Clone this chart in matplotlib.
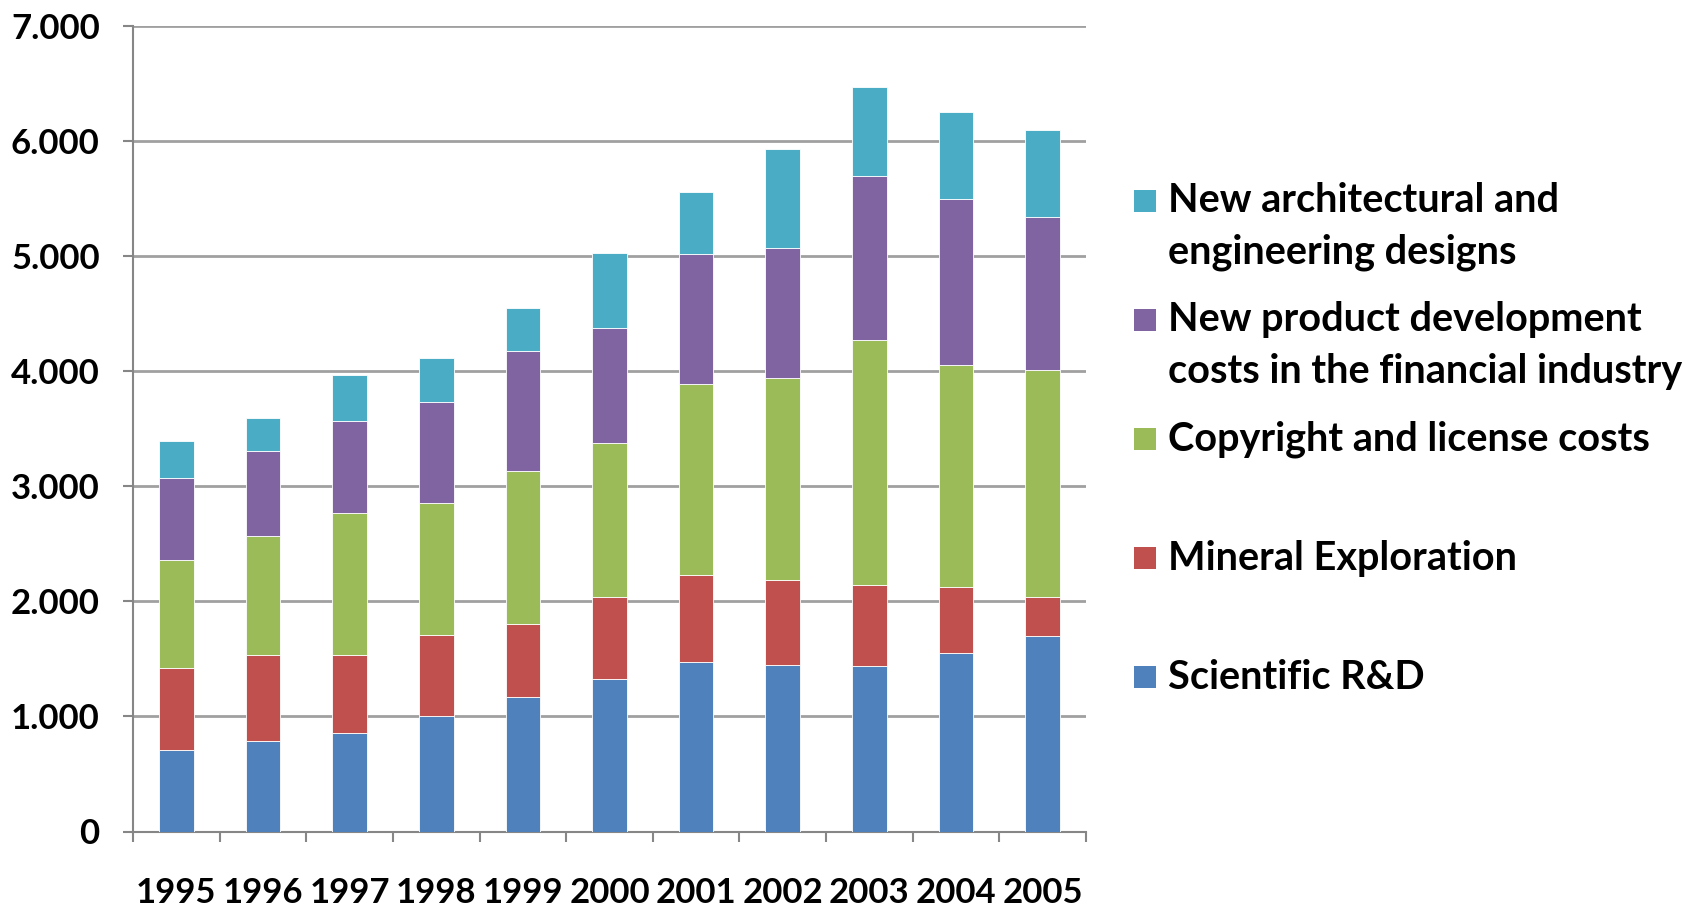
import matplotlib
matplotlib.use('Agg')
import matplotlib.pyplot as plt
from matplotlib.patches import Rectangle
from matplotlib.ticker import FuncFormatter
import numpy as np

# ---- data ----
years = ['1995', '1996', '1997', '1998', '1999', '2000', '2001', '2002', '2003', '2004', '2005']
scientific_rd = [711, 783, 856, 1004, 1166, 1323, 1471, 1451, 1442, 1552, 1697]
mineral_exploration = [711, 752, 682, 705, 641, 716, 754, 736, 702, 569, 345]
copyright_license = [937, 1030, 1227, 1149, 1329, 1335, 1664, 1754, 2126, 1931, 1970]
new_product_financial = [710, 745, 806, 878, 1038, 998, 1126, 1126, 1430, 1445, 1331]
architectural_designs = [325, 284, 392, 377, 377, 658, 540, 866, 766, 754, 752]

series_labels = ['Scientific R&D',
                 'Mineral Exploration',
                 'Copyright and license costs',
                 'New product development\ncosts in the financial industry',
                 'New architectural and\nengineering designs']
series_values = [scientific_rd, mineral_exploration, copyright_license,
                 new_product_financial, architectural_designs]
colors = ['#4F81BD', '#C0504D', '#9BBB59', '#8064A2', '#4BACC6']

plt.rcParams['font.family'] = ['Lato', 'DejaVu Sans']
plt.rcParams['font.weight'] = 'bold'
FS = 25
LFS = 28.5

W, H = 1691, 906
fig = plt.figure(figsize=(W / 100, H / 100), dpi=100)
ax = fig.add_axes([133 / W, 1 - 831.5 / H, (1086 - 133) / W, (831.5 - 26) / H])

x = np.arange(len(years))
bottom = np.zeros(len(years))
for vals, col, lab in zip(series_values, colors, series_labels):
    ax.bar(x, vals, width=0.4, bottom=bottom, color=col, edgecolor='white',
           linewidth=0.6, label=lab, zorder=3)
    bottom += np.array(vals)

ax.set_xlim(-0.5, len(years) - 0.5)
ax.set_ylim(0, 7000)
ax.set_yticks(np.arange(0, 7001, 1000))
ax.yaxis.set_major_formatter(FuncFormatter(lambda v, p: f"{int(v):,}".replace(',', '.')))
ax.set_xticks(x)
ax.set_xticklabels(years)
ax.set_xticks(np.arange(-0.5, len(years), 1), minor=True)

gray = '#868686'
ax.tick_params(axis='x', which='major', length=0, pad=33, labelsize=FS)
ax.tick_params(axis='x', which='minor', length=7, width=1.5, color=gray, direction='out')
ax.tick_params(axis='y', which='major', length=7, width=1.5, color=gray, pad=17, labelsize=FS)
for t in ax.get_xticklabels() + ax.get_yticklabels():
    t.set_fontweight('bold')

ax.yaxis.grid(True, color='#A0A0A0', linewidth=2)
ax.set_axisbelow(True)
for s in ['top', 'right']:
    ax.spines[s].set_visible(False)
for s in ['left', 'bottom']:
    ax.spines[s].set_color(gray)
    ax.spines[s].set_linewidth(1.5)

# ---- legend (reversed order, Excel style) ----
first_center = 200.6
spacing = 119.2
line_h = 51.8
patch = 22
for i, (lab, col) in enumerate(zip(series_labels[::-1], colors[::-1])):
    yc = first_center + i * spacing
    fig.patches.append(Rectangle((1134 / W, 1 - (yc + patch / 2) / H), patch / W, patch / H,
                                 transform=fig.transFigure, facecolor=col, edgecolor='none'))
    for j, line in enumerate(lab.split('\n')):
        fig.text(1168 / W, 1 - (yc + j * line_h) / H, line, fontsize=LFS, fontweight='bold',
                 va='center', ha='left')

fig.savefig('out.png', dpi=100)
